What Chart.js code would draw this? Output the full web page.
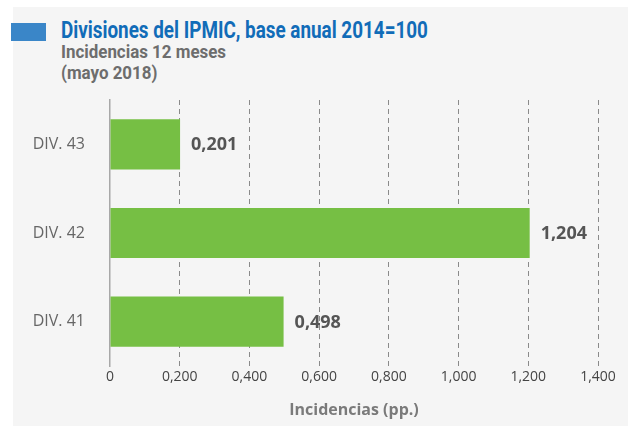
<!DOCTYPE html>
<html>
<head>
<meta charset="utf-8">
<script src="https://cdn.jsdelivr.net/npm/chart.js@4"></script>
<style>
  html, body { margin: 0; padding: 0; background: #ffffff; }
  body { width: 628px; height: 426px; position: relative; overflow: hidden; }
  #panel { position: absolute; left: 13px; top: 7px; right: 0; bottom: 0; background: #f5f5f5; }
  #mark { position: absolute; left: 11px; top: 23px; width: 35px; height: 18px; background: #3a86c8; }
  .hd { position: absolute; left: 61px; white-space: nowrap; transform-origin: left top; font-family: Roboto, sans-serif; font-weight: 700; }
  #title { top: 17px; font-size: 23px; color: #116cb8; transform: scaleX(0.82); }
  #sub1 { top: 41px; font-size: 18px; color: #6d6d6d; transform: scaleX(0.94); }
  #sub2 { top: 62px; font-size: 18px; color: #6d6d6d; transform: scaleX(0.94); }
  #c { position: absolute; left: 0; top: 0; }
</style>
</head>
<body>
<div id="panel"></div>
<div id="mark"></div>
<div class="hd" id="title">Divisiones del IPMIC, base anual 2014=100</div>
<div class="hd" id="sub1">Incidencias 12 meses</div>
<div class="hd" id="sub2">(mayo 2018)</div>
<canvas id="c" width="628" height="426"></canvas>
<script>
// datos
var divisiones = ["DIV. 43", "DIV. 42", "DIV. 41"];
var incidencias = [0.201, 1.204, 0.498];
var xTicks = [0, 0.2, 0.4, 0.6, 0.8, 1.0, 1.2, 1.4];

function fmt(v) {
    // coma decimal, tres decimales
    return v === 0 ? "0" : v.toFixed(3).replace(".", ",");
}

// etiquetas de valor a la derecha de cada barra
var valueLabels = {
    id: "valueLabels",
    afterDatasetsDraw: function (chart) {
        var ctx = chart.ctx;
        var meta = chart.getDatasetMeta(0);
        ctx.save();
        ctx.font = "bold 18px 'Open Sans'";
        ctx.fillStyle = "#555555";
        ctx.textAlign = "left";
        ctx.textBaseline = "middle";
        meta.data.forEach(function (bar, i) {
            ctx.fillText(fmt(incidencias[i]), bar.x + 11, bar.y + 1);
        });
        ctx.restore();
    }
};

var ctx = document.getElementById("c").getContext("2d");
var chart = new Chart(ctx, {
    type: "bar",
    data: {
        labels: divisiones,
        datasets: [{
            data: incidencias,
            backgroundColor: "#76bf44",
            borderWidth: 0,
            barPercentage: 0.565,
            categoryPercentage: 1
        }]
    },
    plugins: [valueLabels],
    options: {
        indexAxis: "y",
        responsive: false,
        animation: false,
        layout: {
            padding: { left: 0, right: 30, top: 100, bottom: 0 }
        },
        plugins: {
            legend: { display: false },
            tooltip: { enabled: false }
        },
        scales: {
            x: {
                min: 0,
                max: 1.4,
                afterBuildTicks: function (scale) {
                    scale.ticks = xTicks.map(function (v) { return { value: v }; });
                },
                afterFit: function (scale) { scale.height = 60; },
                grid: {
                    drawTicks: false,
                    lineWidth: 1,
                    color: function (c) { return c.tick && c.tick.value === 0 ? "rgba(0,0,0,0)" : "#8a8a8a"; }
                },
                border: { display: false, dash: [5, 4] },
                ticks: {
                    padding: 3,
                    color: "#444444",
                    font: { family: "'Open Sans'", size: 14 },
                    callback: function (v) { return fmt(v); }
                },
                title: {
                    display: true,
                    text: "Incidencias (pp.)",
                    color: "#7a7a7a",
                    font: { family: "'Open Sans'", size: 16, weight: "bold" },
                    padding: { top: 0, bottom: 6 }
                }
            },
            y: {
                afterFit: function (scale) { scale.width = 110; },
                grid: { display: false },
                border: { display: true, color: "#a8a8a8", width: 1.5 },
                ticks: {
                    padding: 17,
                    color: "#666666",
                    font: { family: "'Open Sans'", size: 16 }
                }
            }
        }
    }
});
</script>
</body>
</html>
